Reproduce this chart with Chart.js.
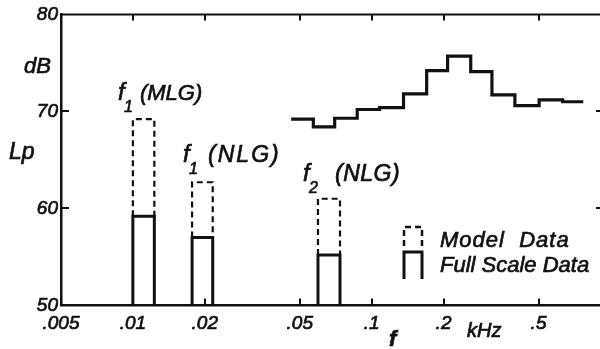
<!DOCTYPE html>
<html><head><meta charset="utf-8">
<script src="https://cdn.jsdelivr.net/npm/chart.js@4.4.0/dist/chart.umd.min.js"></script>
<style>
html,body{margin:0;padding:0;background:#fff;overflow:hidden;width:600px;height:349px}
canvas{display:block}
</style></head><body>
<canvas id="c" width="610" height="349" style="width:610px;height:349px"></canvas>
<script>
// Frequency axis ticks (kHz) and level axis ticks (dB)
const freqTicks = [0.005, 0.01, 0.02, 0.05, 0.1, 0.2, 0.5];
const freqTickLabels = ['.005', '.01', '.02', '.05', '.1', '.2', '.5'];
const levelTicks = [50, 60, 70, 80];

// Tone peaks: band limits (kHz) and levels (dB)
const peakNames = ['(MLG)', '(NLG)', '(NLG)'];
const peakSub = ['1', '1', '2'];
const peakLow = [0.0100, 0.0177, 0.0596];
const peakHigh = [0.0123, 0.0216, 0.0737];
const modelLevel = [69.2, 62.7, 61.0];
const fullScaleLevel = [59.2, 57.0, 55.2];

// Broadband spectrum: band edges (kHz) and band levels (dB)
const bandEdges = [0.046, 0.057, 0.070, 0.087, 0.108, 0.136, 0.170, 0.208, 0.260, 0.319, 0.398, 0.503, 0.631, 0.770];
const bandLevels = [69.2, 68.4, 69.3, 70.2, 70.4, 71.8, 74.2, 75.7, 74.1, 71.7, 70.6, 71.2, 71.0];

const FLOOR = 50;
const INK = '#111';
const FONT = '"Liberation Sans", Arial, sans-serif';

// spectrum as stepped line: each point starts a band
const spectrumPts = bandLevels.map((v, i) => ({x: bandEdges[i], y: v}));
spectrumPts.push({x: bandEdges[bandEdges.length - 1], y: bandLevels[bandLevels.length - 1]});

// open-bottom outlines for the full scale peaks
const fullPts = [];
peakLow.forEach((lo, i) => {
  const hi = peakHigh[i], v = fullScaleLevel[i];
  fullPts.push({x: lo, y: FLOOR}, {x: lo, y: v}, {x: hi, y: v}, {x: hi, y: FLOOR}, {x: hi, y: null});
});
// dashed model outlines sitting above the full scale outlines
const modelPts = [];
peakLow.forEach((lo, i) => {
  const hi = peakHigh[i], v = modelLevel[i], b = fullScaleLevel[i];
  modelPts.push({x: lo, y: b}, {x: lo, y: v}, {x: hi, y: v}, {x: hi, y: b}, {x: hi, y: null});
});

// filled text with a thin outline so the lettering has some weight
function inkText(ctx, s, x, y) {
  ctx.fillText(s, x, y);
  ctx.lineWidth = 0.7;
  ctx.strokeText(s, x, y);
}

const decor = {
  id: 'decor',
  afterDraw(chart) {
    const ctx = chart.ctx, a = chart.chartArea;
    const xs = chart.scales.x, ys = chart.scales.y;
    ctx.save();
    ctx.strokeStyle = INK; ctx.fillStyle = INK; ctx.lineCap = 'butt';

    // top and right frame
    ctx.lineWidth = 2;
    ctx.beginPath();
    ctx.moveTo(a.left, a.top); ctx.lineTo(a.right, a.top); ctx.lineTo(a.right, a.bottom);
    ctx.stroke();

    // inward tick marks
    ctx.lineWidth = 2;
    ctx.beginPath();
    freqTicks.forEach(v => {
      if (v <= xs.min) return;
      const px = Math.round(xs.getPixelForValue(v));
      ctx.moveTo(px, a.bottom); ctx.lineTo(px, a.bottom - 7);
      ctx.moveTo(px, a.top); ctx.lineTo(px, a.top + 6);
    });
    levelTicks.forEach(v => {
      if (v <= ys.min || v >= ys.max) return;
      const py = Math.round(ys.getPixelForValue(v));
      ctx.moveTo(a.left, py); ctx.lineTo(a.left + 8, py);
      ctx.moveTo(a.right, py); ctx.lineTo(a.right - 8, py);
    });
    ctx.stroke();

    // peak labels
    const spacing = [0, 2, 0.5];
    const it = (s, w) => (w || '') + 'italic ' + s + 'px ' + FONT;
    ctx.textBaseline = 'alphabetic'; ctx.textAlign = 'left';
    peakLow.forEach((lo, i) => {
      const x0 = xs.getPixelForValue(lo);
      const yTop = ys.getPixelForValue(modelLevel[i]);
      const offs = [[-15, -19], [-9, -20], [-15, -18]][i];
      const fx = x0 + offs[0], by = yTop + offs[1];
      ctx.letterSpacing = '0px';
      ctx.font = it(24);
      inkText(ctx, 'f', fx, by);
      ctx.font = it(16);
      inkText(ctx, peakSub[i], fx + 6, by + 12);
      ctx.font = it(i === 0 ? 22 : 23);
      ctx.letterSpacing = spacing[i] + 'px';
      inkText(ctx, peakNames[i], fx + (i === 1 ? 25 : 22 + (i === 2 ? 10 : 0)), by);
    });
    ctx.letterSpacing = '0px';

    // axis titles
    ctx.font = it(22); inkText(ctx, 'dB', 24, 73);
    ctx.font = it(23); inkText(ctx, 'Lp', 9, 159);
    ctx.font = it(22, 'bold '); inkText(ctx, 'f', 389, 346);
    ctx.font = it(20); inkText(ctx, 'kHz', 467, 337);

    // legend
    const lx0 = 404, lx1 = 422;
    ctx.lineWidth = 2.5;
    ctx.setLineDash([6, 4]);
    ctx.beginPath();
    ctx.moveTo(lx0, 246); ctx.lineTo(lx0, 227); ctx.lineTo(lx1, 227); ctx.lineTo(lx1, 246);
    ctx.stroke();
    ctx.setLineDash([]);
    ctx.lineWidth = 3;
    ctx.beginPath();
    ctx.moveTo(lx0, 279); ctx.lineTo(lx0, 252); ctx.lineTo(lx1, 252); ctx.lineTo(lx1, 279);
    ctx.stroke();
    ctx.font = it(22);
    ctx.letterSpacing = '1px';
    inkText(ctx, 'Model  Data', 440, 247);
    ctx.letterSpacing = '0px';
    inkText(ctx, 'Full Scale Data', 440, 272);
    ctx.restore();
  }
};

const tickFont = {family: FONT, size: 19, style: 'italic'};

new Chart(document.getElementById('c'), {
  type: 'line',
  data: {
    datasets: [
      {data: spectrumPts, stepped: 'before', borderColor: INK, borderWidth: 3.2, pointRadius: 0, fill: false, borderJoinStyle: 'miter'},
      {data: fullPts, borderColor: INK, borderWidth: 3, pointRadius: 0, fill: false, spanGaps: false, borderJoinStyle: 'miter', tension: 0},
      {data: modelPts, borderColor: INK, borderWidth: 2.2, borderDash: [6, 4], pointRadius: 0, fill: false, spanGaps: false, borderJoinStyle: 'miter', tension: 0}
    ]
  },
  options: {
    responsive: false,
    animation: false,
    devicePixelRatio: 1,
    layout: {padding: {top: 13.5, right: 6, left: 0, bottom: 0}},
    plugins: {legend: {display: false}, tooltip: {enabled: false}},
    scales: {
      x: {
        type: 'logarithmic', min: 0.005, max: 0.94,
        afterBuildTicks: s => { s.ticks = freqTicks.map(v => ({value: v})); },
        afterFit: s => { s.height = 43.5; },
        grid: {display: false, drawTicks: false},
        border: {display: true, color: INK, width: 2.5},
        ticks: {
          autoSkip: false, maxRotation: 0, padding: 7, color: INK,
          textStrokeColor: INK, textStrokeWidth: 0.7,
          font: tickFont,
          callback: v => freqTickLabels[freqTicks.indexOf(v)] ?? ''
        }
      },
      y: {
        type: 'linear', min: 50, max: 80,
        afterBuildTicks: s => { s.ticks = levelTicks.map(v => ({value: v})); },
        afterFit: s => { s.width = 61; },
        grid: {display: false, drawTicks: false},
        border: {display: true, color: INK, width: 2.5},
        ticks: {
          padding: 3, color: INK,
          textStrokeColor: INK, textStrokeWidth: 0.7,
          font: tickFont,
          callback: v => String(v)
        }
      }
    }
  },
  plugins: [decor]
});
</script>
</body></html>
